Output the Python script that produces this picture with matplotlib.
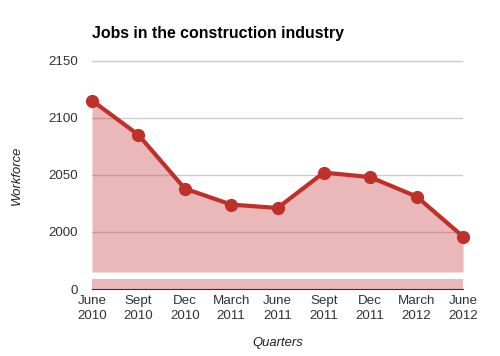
import matplotlib.pyplot as plt

# -----------------------------
# Data
# -----------------------------
quarters = ["June\n2010", "Sept\n2010", "Dec\n2010", "March\n2011", "June\n2011",
            "Sept\n2011", "Dec\n2011", "March\n2012", "June\n2012"]
workforce = [2115, 2085, 2038, 2024, 2021, 2052, 2048, 2031, 1996]
y_ticks = [2000, 2050, 2100, 2150]

line_color = "#c0302a"
fill_color = "#c02828"
text_color = "#333333"

plt.rcParams["font.family"] = ["Liberation Sans", "DejaVu Sans"]

fig = plt.figure(figsize=(5, 3.56), dpi=100)

# upper (broken) axes with the data
ax = fig.add_axes([0.184, 0.236, 0.742, 0.61])
# lower axes holding the zero baseline
ax0 = fig.add_axes([0.184, 0.188, 0.742, 0.028])

x = list(range(len(quarters)))

ax.set_ylim(1965, 2155)
ax.set_xlim(0, len(quarters) - 1)
ax.fill_between(x, workforce, 1965, color=fill_color, alpha=0.33, linewidth=0, zorder=2)
ax.plot(x, workforce, color=line_color, linewidth=3, marker="o", markersize=8.5,
        clip_on=False, zorder=3)
ax.set_yticks(y_ticks)
ax.grid(axis="y", color="#cccccc", linewidth=1, zorder=1)
ax.set_axisbelow(True)
ax.set_xticks([])
for s in ax.spines.values():
    s.set_visible(False)
ax.tick_params(axis="y", length=0, labelsize=9.6, labelcolor=text_color, pad=10)

ax0.set_xlim(0, len(quarters) - 1)
ax0.set_ylim(0, 1)
ax0.fill_between(x, 1, 0, color=fill_color, alpha=0.33, linewidth=0)
ax0.set_yticks([0])
ax0.set_xticks(x)
ax0.set_xticklabels(quarters, linespacing=1.35)
for s in ax0.spines.values():
    s.set_visible(False)
ax0.spines["bottom"].set_visible(True)
ax0.spines["bottom"].set_color("#333333")
ax0.tick_params(axis="both", length=0, labelsize=9.6, labelcolor=text_color)
ax0.tick_params(axis="y", pad=10)
ax0.tick_params(axis="x", pad=4)

fig.text(0.184, 0.905, "Jobs in the construction industry", fontsize=11.4,
         fontweight="bold", color="black", ha="left", va="center")
fig.text(0.034, 0.508, "Workforce", fontsize=9.4, style="italic", color="#222222",
         rotation=90, ha="center", va="center")
fig.text(0.555, 0.036, "Quarters", fontsize=9.4, style="italic", color="#222222",
         ha="center", va="center")

plt.savefig("out.png", dpi=100)
